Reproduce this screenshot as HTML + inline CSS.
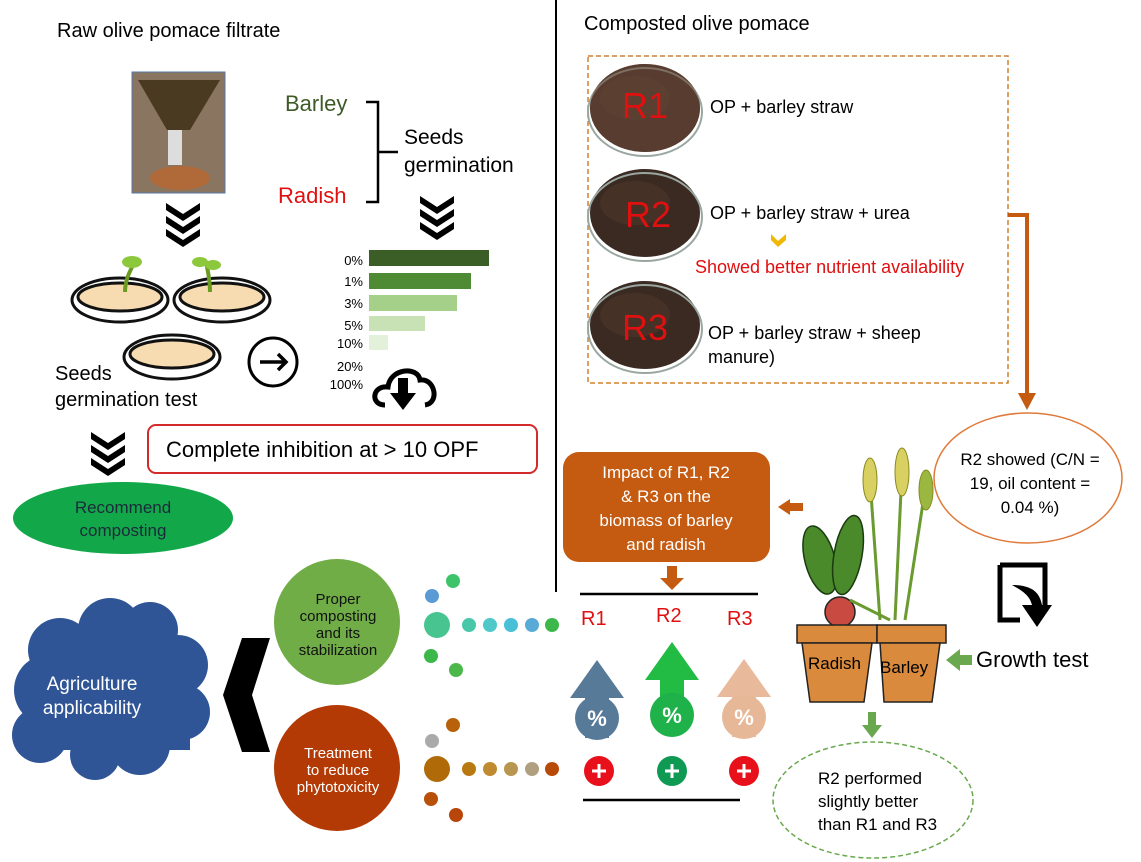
<!DOCTYPE html>
<html><head><meta charset="utf-8"><style>
html,body{margin:0;padding:0;background:#fff;}
svg{display:block;font-family:"Liberation Sans",Arial,sans-serif;}
</style></head><body>
<svg width="1141" height="862" viewBox="0 0 1141 862" xmlns="http://www.w3.org/2000/svg">
<defs>
<g id="chev"><path d="M0,0 L17,11 L34,0 L34,7 L17,18 L0,7Z" fill="#000"/></g>
<g id="compost"><ellipse cx="0" cy="0" rx="55" ry="44" fill="#3a2a22"/><ellipse cx="0" cy="4" rx="57" ry="44" fill="none" stroke="#9aa7a0" stroke-width="2"/><ellipse cx="-10" cy="-10" rx="35" ry="22" fill="#4a3428" opacity=".7"/></g>
<path id="upArrow" d="M-27,0 L0,-38 L27,0 L12,0 L12,40 L-12,40 L-12,0Z"/>
</defs>

<text x="57" y="37" font-size="20">Raw olive pomace filtrate</text>
<line x1="556" y1="0" x2="556" y2="592" stroke="#000" stroke-width="2"/>
<text x="584" y="30" font-size="20">Composted olive pomace</text>

<rect x="132" y="72" width="93" height="121" fill="#8a7660" stroke="#5577aa" stroke-width="1"/>
<path d="M138,80 L220,80 L190,130 L167,130Z" fill="#4a3a22"/>
<rect x="168" y="130" width="14" height="35" fill="#ddd"/>
<ellipse cx="180" cy="178" rx="30" ry="12" fill="#b06a3a"/>

<use href="#chev" x="166" y="203"/><use href="#chev" x="166" y="216"/><use href="#chev" x="166" y="229"/>
<use href="#chev" x="420" y="196"/><use href="#chev" x="420" y="209"/><use href="#chev" x="420" y="222"/>
<use href="#chev" x="91" y="432"/><use href="#chev" x="91" y="445"/><use href="#chev" x="91" y="458"/>

<text x="285" y="111" font-size="22" fill="#3d5a28">Barley</text>
<text x="278" y="203" font-size="22" fill="#e01010">Radish</text>
<path d="M366,102 L378,102 L378,202 L366,202 M378,152 L398,152" fill="none" stroke="#000" stroke-width="2.5"/>
<text x="404" y="144" font-size="21">Seeds</text>
<text x="404" y="172" font-size="21">germination</text>

<g font-size="13" text-anchor="end">
<text x="363" y="265">0%</text><text x="363" y="286">1%</text><text x="363" y="308">3%</text><text x="363" y="330">5%</text><text x="363" y="348">10%</text><text x="363" y="371">20%</text><text x="363" y="389">100%</text>
</g>
<rect x="369" y="250" width="120" height="16" fill="#3b5e26"/>
<rect x="369" y="273" width="102" height="16" fill="#4f8a34"/>
<rect x="369" y="295" width="88" height="16" fill="#a5d08a"/>
<rect x="369" y="316" width="56" height="15" fill="#c8e2b5"/>
<rect x="369" y="335" width="19" height="15" fill="#e3f0da"/>
<path d="M385,405 C370,405 372,385 388,387 C390,368 418,366 420,380 C435,378 440,403 425,405" fill="none" stroke="#000" stroke-width="5"/>
<path d="M398,378 L408,378 L408,393 L416,393 L403,410 L390,393 L398,393Z" fill="#000"/>

<g stroke="#111" stroke-width="3">
<ellipse cx="120" cy="300" rx="48" ry="22" fill="#fff"/><ellipse cx="120" cy="297" rx="42" ry="14" fill="#f6dcb0"/>
<ellipse cx="222" cy="300" rx="48" ry="22" fill="#fff"/><ellipse cx="222" cy="297" rx="42" ry="14" fill="#f6dcb0"/>
<ellipse cx="172" cy="357" rx="48" ry="22" fill="#fff"/><ellipse cx="172" cy="354" rx="42" ry="14" fill="#f6dcb0"/>
</g>
<path d="M125,292 C125,280 130,270 135,262" stroke="#6a9a20" stroke-width="4" fill="none"/>
<ellipse cx="132" cy="262" rx="10" ry="6" fill="#8cc83c"/>
<path d="M210,292 C210,280 208,272 206,262" stroke="#6a9a20" stroke-width="4" fill="none"/>
<ellipse cx="200" cy="262" rx="8" ry="5" fill="#8cc83c"/><ellipse cx="213" cy="265" rx="8" ry="5" fill="#8cc83c"/>
<circle cx="273" cy="362" r="24" fill="none" stroke="#000" stroke-width="3"/>
<path d="M260,362 L286,362 M278,354 L286,362 L278,370" stroke="#000" stroke-width="3.5" fill="none"/>
<text x="55" y="380" font-size="20">Seeds</text>
<text x="55" y="406" font-size="20">germination test</text>

<rect x="148" y="425" width="389" height="48" rx="8" fill="#fff" stroke="#d42a2a" stroke-width="2"/>
<text x="166" y="457" font-size="22">Complete inhibition at &gt; 10 OPF</text>

<ellipse cx="123" cy="518" rx="110" ry="36" fill="#12a84a"/>
<text x="123" y="513" font-size="17" fill="#1b2a3a" text-anchor="middle">Recommend</text>
<text x="123" y="536" font-size="17" fill="#1b2a3a" text-anchor="middle">composting</text>

<rect x="588" y="56" width="420" height="327" fill="none" stroke="#d08030" stroke-width="1.5" stroke-dasharray="5,3"/>
<use href="#compost" x="645" y="108"/><use href="#compost" x="645" y="213"/><use href="#compost" x="645" y="325"/>
<ellipse cx="645" cy="108" rx="55" ry="44" fill="#6a4a38" opacity=".6"/>
<g font-size="36" fill="#e01010"><text x="622" y="118">R1</text><text x="625" y="227">R2</text><text x="622" y="340">R3</text></g>
<g font-size="18"><text x="710" y="113">OP + barley straw</text><text x="710" y="219">OP + barley straw + urea</text>
<text x="708" y="339">OP + barley straw + sheep</text><text x="708" y="363">manure)</text></g>
<path d="M771,234 L778,241 L786,234 L786,240 L778,247 L771,240Z" fill="#f0b800"/>
<text x="695" y="273" font-size="18" fill="#e01010">Showed better nutrient availability</text>

<path d="M1008,215 L1027,215 L1027,395" fill="none" stroke="#c55a11" stroke-width="4"/>
<path d="M1018,393 L1036,393 L1027,410Z" fill="#c55a11"/>
<ellipse cx="1028" cy="478" rx="94" ry="65" fill="#fff" stroke="#e07a3a" stroke-width="1.5"/>
<g font-size="17" text-anchor="middle"><text x="1030" y="489" dy="-24">R2 showed (C/N =</text><text x="1030" y="489">19, oil content =</text><text x="1030" y="513">0.04 %)</text></g>

<rect x="563" y="452" width="207" height="110" rx="16" fill="#c55a11"/>
<g font-size="17" fill="#fff" text-anchor="middle"><text x="666" y="478">Impact of R1, R2</text><text x="666" y="502">&amp; R3 on the</text><text x="666" y="526">biomass of barley</text><text x="666" y="550">and radish</text></g>
<path d="M778,507 L790,499 L790,503 L803,503 L803,511 L790,511 L790,515Z" fill="#c55a11"/>
<path d="M667,566 L677,566 L677,578 L684,578 L672,590 L660,578 L667,578Z" fill="#c55a11"/>
<line x1="580" y1="594" x2="758" y2="594" stroke="#000" stroke-width="2.5"/>
<g font-size="20" fill="#e01010"><text x="581" y="625">R1</text><text x="656" y="622">R2</text><text x="727" y="625">R3</text></g>
<use href="#upArrow" x="597" y="698" fill="#587a99"/><circle cx="597" cy="718" r="22" fill="#587a99"/>
<use href="#upArrow" x="658" y="680" fill="#22bb44" transform="translate(14,0)"/><circle cx="672" cy="715" r="22" fill="#1fb14a"/>
<use href="#upArrow" x="723" y="697" fill="#e8b99a" transform="translate(21,0)"/><circle cx="744" cy="717" r="22" fill="#e7b898"/>
<g fill="#fff" font-size="22" font-weight="bold" text-anchor="middle"><text x="597" y="726">%</text><text x="672" y="723">%</text><text x="744" y="725">%</text></g>
<circle cx="599" cy="771" r="15" fill="#e8101a"/><circle cx="672" cy="771" r="15" fill="#0e9a52"/><circle cx="744" cy="771" r="15" fill="#e8101a"/>
<g stroke="#fff" stroke-width="3"><path d="M592,771h14M599,764v14M665,771h14M672,764v14M737,771h14M744,764v14"/></g>
<line x1="583" y1="800" x2="740" y2="800" stroke="#000" stroke-width="2.5"/>

<g fill="#4a8a2a" stroke="#1a3a10" stroke-width="1.5">
<ellipse cx="820" cy="560" rx="15" ry="35" transform="rotate(-15 820 560)"/>
<ellipse cx="848" cy="555" rx="14" ry="40" transform="rotate(10 848 555)"/>
</g>
<circle cx="840" cy="612" r="15" fill="#c84a40" stroke="#222" stroke-width="1.5"/>
<g stroke="#6a9a30" stroke-width="3" fill="none"><path d="M880,620 L870,480 M895,620 L902,470 M905,620 L925,490 M890,620 L850,600"/></g>
<g fill="#d8d060" stroke="#8a8a20"><ellipse cx="870" cy="480" rx="7" ry="22"/><ellipse cx="902" cy="472" rx="7" ry="24"/><ellipse cx="926" cy="490" rx="7" ry="20" fill="#9ab840"/></g>
<g fill="#d98a3c" stroke="#222" stroke-width="1.5">
<rect x="797" y="625" width="80" height="18"/><path d="M802,643 L872,643 L864,702 L810,702Z"/>
<rect x="877" y="625" width="69" height="18"/><path d="M880,643 L940,643 L932,702 L884,702Z"/>
</g>
<text x="808" y="669" font-size="17">Radish</text><text x="880" y="673" font-size="17">Barley</text>
<path d="M946,660 L960,649 L960,655 L972,655 L972,665 L960,665 L960,671Z" fill="#6aa84f"/>
<text x="976" y="667" font-size="22">Growth test</text>
<path d="M1000,565 L1045,565 L1045,612 M1000,565 L1000,620 L1020,620" fill="none" stroke="#000" stroke-width="5"/>
<path d="M1012,585 C1035,585 1040,595 1042,605 L1052,605 L1037,627 L1022,605 L1032,605 C1030,597 1025,592 1012,585Z" fill="#000"/>
<path d="M868,712 L876,712 L876,725 L882,725 L872,738 L862,725 L868,725Z" fill="#6aa84f"/>
<ellipse cx="873" cy="800" rx="100" ry="58" fill="none" stroke="#6aa84f" stroke-width="1.5" stroke-dasharray="5,3"/>
<g font-size="17"><text x="818" y="784">R2 performed</text><text x="818" y="807">slightly better</text><text x="818" y="830">than R1 and R3</text></g>

<g fill="#2f5597">
<circle cx="50" cy="690" r="36"/><circle cx="60" cy="650" r="32"/><circle cx="110" cy="630" r="32"/><circle cx="150" cy="630" r="28"/><circle cx="178" cy="665" r="30"/><circle cx="182" cy="712" r="28"/><circle cx="140" cy="745" r="30"/><circle cx="95" cy="755" r="25"/><circle cx="40" cy="735" r="28"/><rect x="40" y="640" width="150" height="110"/>
</g>
<g font-size="19" fill="#fff" text-anchor="middle"><text x="92" y="690">Agriculture</text><text x="92" y="714">applicability</text></g>
<path d="M242,638 L270,638 L252,695 L270,752 L242,752 L223,695Z" fill="#000"/>
<circle cx="337" cy="622" r="63" fill="#70ad47"/>
<g font-size="15" text-anchor="middle" fill="#111"><text x="338" y="604">Proper</text><text x="338" y="621">composting</text><text x="338" y="638">and its</text><text x="338" y="655">stabilization</text></g>
<circle cx="337" cy="768" r="63" fill="#b33a05"/>
<g font-size="15" text-anchor="middle" fill="#fff"><text x="338" y="758">Treatment</text><text x="338" y="775">to reduce</text><text x="338" y="792">phytotoxicity</text></g>
<circle cx="453" cy="581" r="7" fill="#3dc46a"/><circle cx="432" cy="596" r="7" fill="#5b9bd5"/><circle cx="437" cy="625" r="13" fill="#48c490"/>
<circle cx="469" cy="625" r="7" fill="#48c8a8"/><circle cx="490" cy="625" r="7" fill="#4ec8c8"/><circle cx="511" cy="625" r="7" fill="#48c0d8"/><circle cx="532" cy="625" r="7" fill="#5aaad8"/><circle cx="552" cy="625" r="7" fill="#3cb84a"/>
<circle cx="431" cy="656" r="7" fill="#3cb84a"/><circle cx="456" cy="670" r="7" fill="#4cb84a"/>
<circle cx="453" cy="725" r="7" fill="#b8600a"/><circle cx="432" cy="741" r="7" fill="#aaaaaa"/><circle cx="437" cy="769" r="13" fill="#b06a08"/>
<circle cx="469" cy="769" r="7" fill="#b87a10"/><circle cx="490" cy="769" r="7" fill="#c08a30"/><circle cx="511" cy="769" r="7" fill="#b89650"/><circle cx="532" cy="769" r="7" fill="#b0a080"/><circle cx="552" cy="769" r="7" fill="#b84a08"/>
<circle cx="431" cy="799" r="7" fill="#b8500a"/><circle cx="456" cy="815" r="7" fill="#b8450a"/>
</svg>
</body></html>
